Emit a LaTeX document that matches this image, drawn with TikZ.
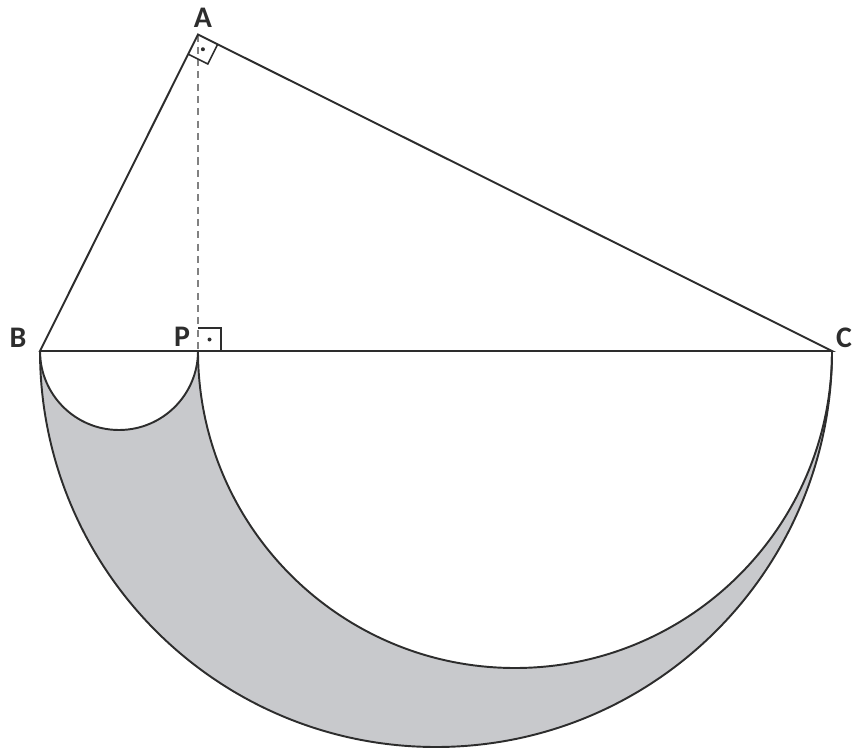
\documentclass[tikz,border=0pt]{standalone}
\usepackage{fontspec}
\setmainfont{Carlito}
\usetikzlibrary{calc}
\definecolor{regiongray}{RGB}{200,201,204}
\definecolor{ink}{RGB}{45,45,45}
\tikzset{
  edge/.style={draw=ink,line width=1.1pt},
  lbl/.style={font=\fontsize{17}{19}\selectfont\bfseries,text=ink,inner sep=0pt},
  anglemark/.style={draw=ink,line width=0.9pt},
  dotmark/.style={fill=ink,draw=none}
}
\begin{document}
\begin{tikzpicture}[x=0.02cm,y=0.02cm]
\useasboundingbox (0,0) rectangle (854,751);
\coordinate (B) at (40,400);
\coordinate (P) at (198,400);
\coordinate (C) at (832,400);
\coordinate (A) at (198,716.5);
% shaded region
\fill[regiongray] (B) arc[start angle=180,end angle=360,radius=396]
  arc[start angle=360,end angle=180,radius=317]
  arc[start angle=360,end angle=180,radius=79] -- cycle;
\draw[edge] (B) arc[start angle=180,end angle=360,radius=396];
\draw[edge] (C) arc[start angle=360,end angle=180,radius=317];
\draw[edge] (P) arc[start angle=360,end angle=180,radius=79];
% altitude
\draw[ink!60,line width=0.6pt,dash pattern=on 4pt off 3pt] (A) -- (P);
% triangle
\draw[edge,line join=miter] (B) -- (A) -- (C) -- cycle;
% right angle at A
\coordinate (a1) at ($(A)!0.44cm!(B)$);
\coordinate (a2) at ($(A)!0.44cm!(C)$);
\coordinate (a3) at ($(a1)+(a2)-(A)$);
\draw[anglemark] (a1) -- (a3) -- (a2);
\fill[dotmark] ($(A)!0.5!(a3)$) circle[radius=2];
% right angle at P
\coordinate (p1) at (221,400);
\coordinate (p2) at (221,423);
\coordinate (p3) at (198,423);
\draw[anglemark] (p1) -- (p2) -- (p3);
\fill[dotmark] ($(P)!0.5!(p2)$) circle[radius=2];
% labels
\node[lbl] (lA) at (203,733) {A};
\node[lbl] (lB) at (18,413) {B};
\node[lbl] (lP) at (182,414) {P};
\node[lbl] (lC) at (844,413) {C};
\end{tikzpicture}
\end{document}
